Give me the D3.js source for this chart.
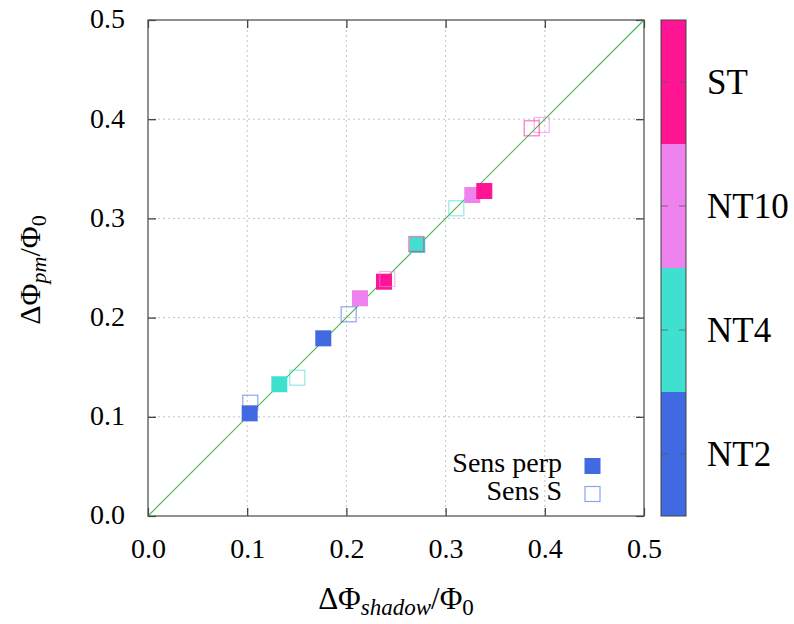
<!DOCTYPE html>
<html><head><meta charset="utf-8">
<script src="https://cdn.jsdelivr.net/npm/d3@7"></script>
<style>
body{margin:0;background:#fff}
text{font-family:"Liberation Serif","Times New Roman",serif;fill:#000}
</style>
</head><body>
<svg id="c" width="794" height="624"></svg>
<script>
// ---- data ----
const xTicks = [0.0, 0.1, 0.2, 0.3, 0.4, 0.5];
const yTicks = [0.0, 0.1, 0.2, 0.3, 0.4, 0.5];
const categories = ["NT2", "NT4", "NT10", "ST"];
const catColors = ["#4169e1", "#40e0d0", "#ee82ee", "#ff1493"];
const seriesNames = ["Sens perp", "Sens S"];
const perpX = [0.1025, 0.1767, 0.1324, 0.2715, 0.2137, 0.3269, 0.2379, 0.3390];
const perpY = [0.1035, 0.1791, 0.1328, 0.2732, 0.2195, 0.3236, 0.2362, 0.3276];
const perpCat = ["NT2", "NT2", "NT4", "NT4", "NT10", "NT10", "ST", "ST"];
const sX = [0.1031, 0.2023, 0.1505, 0.3108, 0.2412, 0.3969, 0.2705, 0.3868];
const sY = [0.1142, 0.2033, 0.1394, 0.3102, 0.2389, 0.3942, 0.2742, 0.3908];
const sCat = ["NT2", "NT2", "NT4", "NT4", "NT10", "NT10", "ST", "ST"];
const diag = [0.0, 0.5];

// ---- layout ----
const L = 148, R = 644, T = 20, B = 516;
const svg = d3.select("#c");
const x = d3.scaleLinear([0, 0.5], [L, R]);
const y = d3.scaleLinear([0, 0.5], [B, T]);
const color = d3.scaleOrdinal(categories, catColors);
const fmt = d3.format(".1f");

// grid
const grid = svg.append("g");
grid.selectAll(".gx").data(xTicks.slice(1, -1)).join("line")
  .attr("x1", d => x(d)).attr("x2", d => x(d)).attr("y1", T).attr("y2", B)
  .attr("stroke", "#c4c4c4").attr("stroke-width", 1).attr("stroke-dasharray", "2,3");
grid.selectAll(".gy").data(yTicks.slice(1, -1)).join("line")
  .attr("y1", d => y(d)).attr("y2", d => y(d)).attr("x1", L).attr("x2", R)
  .attr("stroke", "#c4c4c4").attr("stroke-width", 1).attr("stroke-dasharray", "2,3");

// axes
function styleAxis(g) {
  g.attr("font-family", null).attr("font-size", null);
  g.select(".domain").remove();
  g.selectAll(".tick line").attr("stroke", "#333").attr("stroke-width", 1.2);
  g.selectAll("text").style("font-size", "28px");
}
svg.append("g").attr("transform", `translate(0,${B})`)
  .call(d3.axisBottom(x).tickValues(xTicks).tickFormat(fmt).tickSizeInner(-8).tickSizeOuter(0).tickPadding(22))
  .call(styleAxis);
svg.append("g").attr("transform", `translate(0,${T})`)
  .call(d3.axisTop(x).tickValues(xTicks).tickFormat("").tickSizeInner(-8).tickSizeOuter(0))
  .call(styleAxis);
svg.append("g").attr("transform", `translate(${L},0)`)
  .call(d3.axisLeft(y).tickValues(yTicks).tickFormat(fmt).tickSizeInner(-8).tickSizeOuter(0).tickPadding(23))
  .call(styleAxis)
  .call(g => g.selectAll("text").attr("dy", "0.28em"));
svg.append("g").attr("transform", `translate(${R},0)`)
  .call(d3.axisRight(y).tickValues(yTicks).tickFormat("").tickSizeInner(-8).tickSizeOuter(0))
  .call(styleAxis);

// diagonal
svg.append("path")
  .attr("d", d3.line().x(d => x(d)).y(d => y(d))(diag))
  .attr("stroke", "#4cb84c").attr("stroke-width", 1.2).attr("fill", "none");

// border
svg.append("rect").attr("x", L).attr("y", T).attr("width", R - L).attr("height", B - T)
  .attr("fill", "none").attr("stroke", "#555").attr("stroke-width", 1.3);

// points
const S = 16;
const perp = perpX.map((v, i) => ({x: v, y: perpY[i], c: perpCat[i]}));
const sens = sX.map((v, i) => ({x: v, y: sY[i], c: sCat[i]}));
svg.append("g").selectAll("rect").data(perp).join("rect")
  .attr("x", d => x(d.x) - S / 2).attr("y", d => y(d.y) - S / 2)
  .attr("width", S).attr("height", S)
  .attr("fill", d => color(d.c));
svg.append("g").selectAll("rect").data(sens).join("rect")
  .attr("x", d => x(d.x) - S / 2 + 0.5).attr("y", d => y(d.y) - S / 2 + 0.5)
  .attr("width", S - 1).attr("height", S - 1)
  .attr("fill", "none").attr("stroke", d => color(d.c)).attr("stroke-opacity", 0.6).attr("stroke-width", 1.2);

// legend
const lg = svg.append("g");
lg.append("text").attr("x", 562).attr("y", 472).attr("text-anchor", "end").style("font-size", "28px").text(seriesNames[0]);
lg.append("rect").attr("x", 584.5).attr("y", 458).attr("width", S).attr("height", S).attr("fill", catColors[0]);
lg.append("text").attr("x", 562).attr("y", 500).attr("text-anchor", "end").style("font-size", "28px").text(seriesNames[1]);
lg.append("rect").attr("x", 585).attr("y", 486.5).attr("width", S - 1).attr("height", S - 1)
  .attr("fill", "none").attr("stroke", catColors[0]).attr("stroke-opacity", 0.6).attr("stroke-width", 1.2);

// colorbar
const cb = d3.scaleLinear([0.5, 4.5], [B, T]);
const CX0 = 661, CX1 = 686;
const cbg = svg.append("g");
cbg.selectAll("rect").data(categories).join("rect")
  .attr("x", CX0).attr("width", CX1 - CX0)
  .attr("y", (d, i) => cb(i + 1.5)).attr("height", (d, i) => cb(i + 0.5) - cb(i + 1.5))
  .attr("fill", d => color(d));
cbg.append("rect").attr("x", CX0).attr("y", T).attr("width", CX1 - CX0).attr("height", B - T)
  .attr("fill", "none").attr("stroke", "#444").attr("stroke-width", 1);
categories.forEach((c, i) => {
  const ty = cb(i + 1);
  cbg.append("line").attr("x1", CX0).attr("x2", CX0 + 7).attr("y1", ty).attr("y2", ty).attr("stroke", "#555").attr("stroke-opacity", 0.7);
  cbg.append("line").attr("x1", CX1 - 7).attr("x2", CX1).attr("y1", ty).attr("y2", ty).attr("stroke", "#555").attr("stroke-opacity", 0.7);
  cbg.append("text").attr("x", 707).attr("y", ty + 12).style("font-size", "35px").text(c);
});

// axis labels
const xl = svg.append("text").attr("x", 396).attr("y", 609).attr("text-anchor", "middle").style("font-size", "31px");
xl.append("tspan").text("ΔΦ");
xl.append("tspan").attr("dy", 6).style("font-size", "23px").style("font-style", "italic").text("shadow");
xl.append("tspan").attr("dy", -6).text("/Φ");
xl.append("tspan").attr("dy", 6).style("font-size", "23px").text("0");

const yl = svg.append("text").attr("transform", "translate(40,270) rotate(-90)").attr("text-anchor", "middle").style("font-size", "30px");
yl.append("tspan").text("ΔΦ");
yl.append("tspan").attr("dy", 6).style("font-size", "22px").style("font-style", "italic").text("pm");
yl.append("tspan").attr("dy", -6).text("/Φ");
yl.append("tspan").attr("dy", 6).style("font-size", "22px").text("0");
</script>
</body></html>
